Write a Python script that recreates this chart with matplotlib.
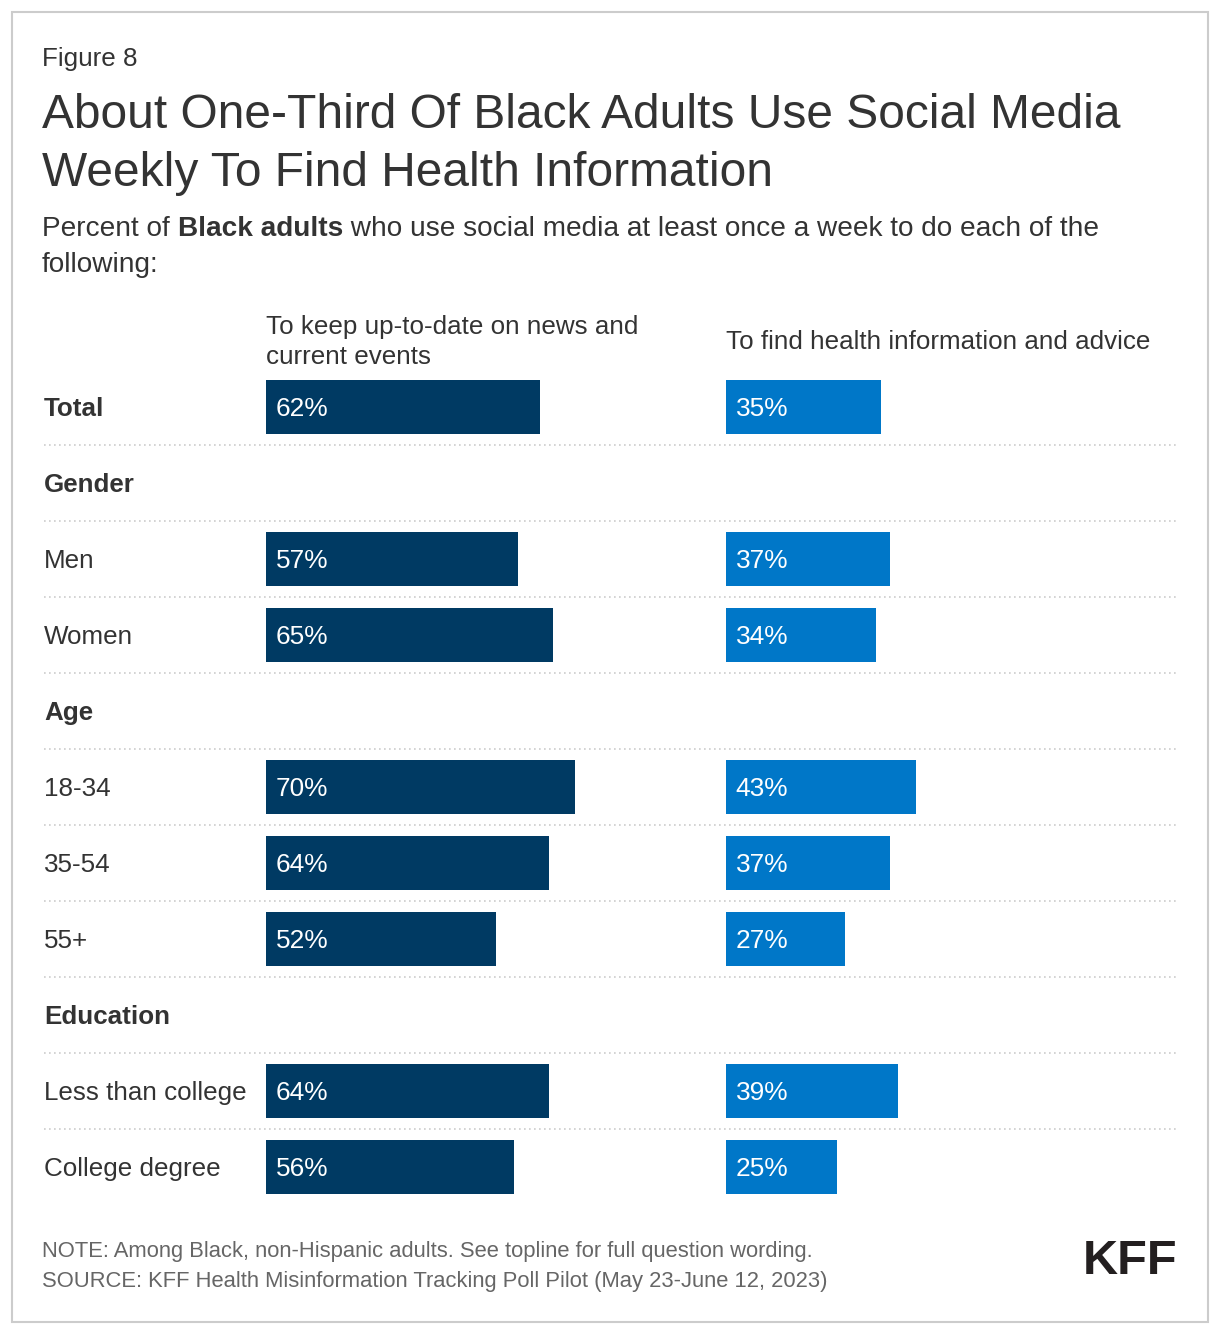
import numpy as np
import matplotlib.pyplot as plt
from matplotlib.patches import Rectangle

plt.rcParams['font.family'] = ['Liberation Sans', 'DejaVu Sans']

# data
rows = ['Total', 'Gender', 'Men', 'Women', 'Age', '18-34', '35-54', '55+',
        'Education', 'Less than college', 'College degree']
bold_rows = ['Total', 'Gender', 'Age', 'Education']
news = [62, None, 57, 65, None, 70, 64, 52, None, 64, 56]
health = [35, None, 37, 34, None, 43, 37, 27, None, 39, 25]
col_titles = ['To keep up-to-date on news and\ncurrent events',
              'To find health information and advice']

W, H = 1220, 1334
fig = plt.figure(figsize=(W / 100, H / 100), dpi=100)
fig.patch.set_facecolor('white')

# outer border
fig.patches.append(Rectangle((12 / W, 1 - 1322 / H), 1196 / W, 1310 / H,
                             transform=fig.transFigure, fill=False,
                             edgecolor='#cccccc', linewidth=1.5))

txt = '#333333'
fig.text(42 / W, 1 - 59 / H, 'Figure 8', fontsize=18.7, color=txt, va='center')
fig.text(42 / W, 1 - 116 / H, 'About One-Third Of Black Adults Use Social Media',
         fontsize=34.5, color=txt, va='center')
fig.text(42 / W, 1 - 173 / H, 'Weekly To Find Health Information',
         fontsize=34.5, color=txt, va='center')
sub_y = 1 - 229 / H
t1 = fig.text(42 / W, sub_y, 'Percent of ', fontsize=20.2, color=txt, va='center')
fig.canvas.draw()
r = fig.canvas.get_renderer()
bb = t1.get_window_extent(r)
t2 = fig.text(bb.x1 / W, sub_y, 'Black adults', fontsize=20.2, color=txt,
              va='center', fontweight='bold')
bb2 = t2.get_window_extent(r)
fig.text(bb2.x1 / W, sub_y, ' who use social media at least once a week to do each of the',
         fontsize=20.2, color=txt, va='center')
fig.text(42 / W, 1 - 265 / H, 'following:', fontsize=20.2, color=txt, va='center')

# row axes (shared y scale)
y_top, y_bot = 369, 1205
bottom = 1 - y_bot / H
height = (y_bot - y_top) / H
n = len(rows)
y = np.arange(n)

bg = fig.add_axes([44 / W, bottom, (1176 - 44) / W, height])
bg.set_xlim(0, 1)
bg.set_ylim(n - 0.5, -0.5)
bg.axis('off')
for i in range(n - 1):
    bg.axhline(i + 0.5, color='#cccccc', linestyle=(0, (1, 2)), linewidth=1.2)
for i, lab in enumerate(rows):
    bg.text(0.0, i + 0.03, lab, fontsize=18.7, color=txt, va='center', ha='left',
            fontweight='bold' if lab in bold_rows else 'normal')

cols = [(266, news, '#003a63'), (726, health, '#0077c8')]
for k, (x0, vals, colr) in enumerate(cols):
    ax = fig.add_axes([x0 / W, bottom, 442 / W, height])
    ax.set_xlim(0, 100)
    ax.set_ylim(n - 0.5, -0.5)
    ax.axis('off')
    for i, v in enumerate(vals):
        if v is None:
            continue
        ax.barh(i, v, height=0.71, color=colr)
        ax.text(2.2, i + 0.03, f'{v}%', color='white', fontsize=18.9,
                va='center', ha='left')
    fig.text(x0 / W, 1 - 342 / H, col_titles[k], fontsize=18.7, color=txt,
             va='center', ha='left', linespacing=1.35)

fig.text(42 / W, 1 - 1251 / H,
         'NOTE: Among Black, non-Hispanic adults. See topline for full question wording.',
         fontsize=15.8, color='#666666', va='center')
fig.text(42 / W, 1 - 1281 / H,
         'SOURCE: KFF Health Misinformation Tracking Poll Pilot (May 23-June 12, 2023)',
         fontsize=15.8, color='#666666', va='center')
fig.text(1177 / W, 1 - 1261 / H, 'KFF', fontsize=35, fontweight='bold',
         color='#231f20', va='center', ha='right')

fig.savefig('out.png', dpi=100, facecolor='white')
